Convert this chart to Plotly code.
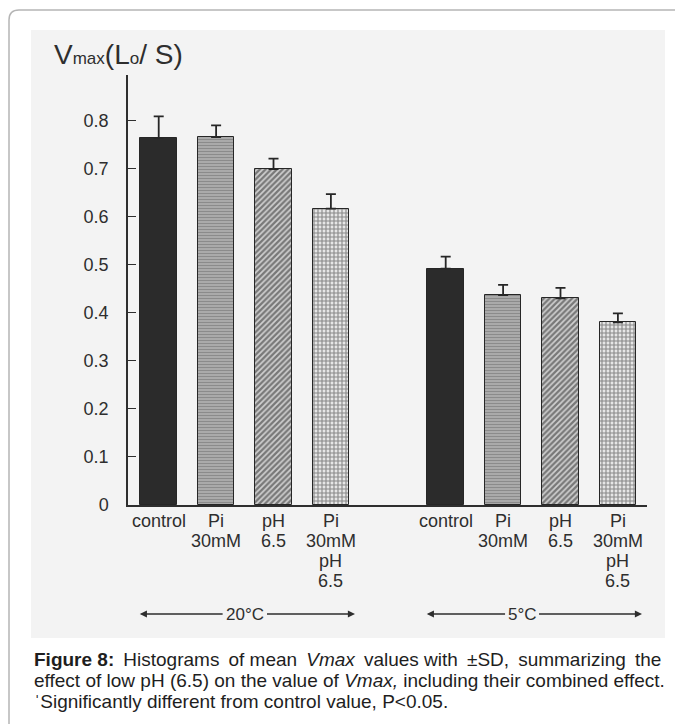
import plotly.graph_objects as go

# ---------------- data ----------------
treatments = ["control", "Pi\n30mM", "pH\n6.5", "Pi\n30mM\npH\n6.5"]
temperatures = ["20°C", "5°C"]
vmax_20C = [0.764, 0.766, 0.699, 0.617]
sd_20C = [0.045, 0.024, 0.022, 0.030]
vmax_5C = [0.492, 0.437, 0.430, 0.380]
sd_5C = [0.025, 0.021, 0.022, 0.019]
y_ticks = [0, 0.1, 0.2, 0.3, 0.4, 0.5, 0.6, 0.7, 0.8]
y_ticklabels = ["0", "0.1", "0.2", "0.3", "0.4", "0.5", "0.6", "0.7", "0.8"]

# ---------------- layout geometry ----------------
W, H = 675, 724
L, R, T, B = 128, 647, 75, 505


def px(x):
    return (x - L) / (R - L)


def py(y):
    return (B - y) / (B - T)


FONT = "Liberation Sans, Arial, sans-serif"
INK = "#2e2e2e"

# slot positions: group 1 at 0..3, group 2 at 5..8
pos_20 = [i for i in range(len(treatments))]
pos_5 = [i + len(treatments) + 1 for i in range(len(treatments))]

styles = [
    dict(color="#2b2b2b", pattern=dict(shape="")),
    dict(color="#a0a0a0", pattern=dict(shape="-", fgcolor="#6a6a6a", bgcolor="#adadad", size=3, solidity=0.4)),
    dict(color="#555555", pattern=dict(shape="/", fgcolor="#202020", bgcolor="#d0d0d0", size=4, solidity=0.58)),
    dict(color="#555555", pattern=dict(shape="+", fgcolor="#2a2a2a", bgcolor="#e6e6e6", size=4, solidity=0.48)),
]

fig = go.Figure()
for i, name in enumerate(treatments):
    st = styles[i]
    fig.add_trace(go.Bar(
        x=[pos_20[i], pos_5[i]],
        y=[vmax_20C[i], vmax_5C[i]],
        width=0.635,
        name=name.replace("\n", " "),
        marker=dict(color=st["color"], pattern=st["pattern"],
                    line=dict(color="#262626", width=1)),
        error_y=dict(type="data", symmetric=False,
                     array=[sd_20C[i], sd_5C[i]], arrayminus=[0, 0],
                     color="#262626", thickness=1.8, width=5),
        showlegend=False,
    ))

annotations = []
# category labels
for positions in (pos_20, pos_5):
    for i, lab in enumerate(treatments):
        for k, line in enumerate(lab.split("\n")):
            annotations.append(dict(
                x=positions[i], xref="x", y=py(521 + 20 * k), yref="paper",
                text=line, showarrow=False, xanchor="center", yanchor="middle",
                font=dict(family=FONT, size=18, color=INK)))

# temperature arrows
arrow_y = py(614)
for positions, temp in ((pos_20, temperatures[0]), (pos_5, temperatures[1])):
    left_tip = positions[0] - 0.33
    right_tip = positions[-1] + 0.42
    mid = (positions[0] + positions[-1]) / 2
    if temp == "5°C":
        mid -= 0.17
    half = 0.36 if len(temp) > 3 else 0.27
    annotations.append(dict(x=mid, xref="x", y=arrow_y, yref="paper", text=temp,
                            showarrow=False, xanchor="center", yanchor="middle",
                            font=dict(family=FONT, size=17, color=INK)))
    for tip, tail in ((left_tip, mid - half), (right_tip, mid + half)):
        annotations.append(dict(x=tip, xref="x", y=arrow_y, yref="paper",
                                ax=tail, axref="x", ay=0, ayref="pixel",
                                text="", showarrow=True, arrowhead=2, arrowsize=1.1,
                                arrowwidth=1.3, arrowcolor=INK))

# axis title
annotations.append(dict(
    x=px(52), xref="paper", y=py(55), yref="paper", xanchor="left", yanchor="middle",
    text="V<span style='font-size:17px'>max</span>(L<span style='font-size:17px'>o</span>/ S)",
    showarrow=False, font=dict(family=FONT, size=28, color=INK)))

# caption
nb = "\u00a0"
g = nb + "\u2009"
cap1 = ("<b>Figure" + nb + "8:</b>" + g + "Histograms" + g + "of" + nb + "mean" + g + "<i>Vmax</i>"
        + g + "values" + nb + "with" + g + "±SD," + g + "summarizing" + g + "the")
cap2 = "effect of low pH (6.5) on the value of <i>Vmax,</i> including their combined effect."
cap3 = "ˈSignificantly different from control value, P&lt;0.05."
for text, yy in ((cap1, 659), (cap2, 680), (cap3, 701)):
    annotations.append(dict(x=px(32), xref="paper", y=py(yy), yref="paper",
                            xanchor="left", yanchor="middle", text=text, showarrow=False,
                            font=dict(family=FONT, size=19, color="#1e1e1e")))

shapes = [
    # scanned figure background
    dict(type="rect", xref="paper", yref="paper", x0=px(31), x1=px(665), y0=py(638), y1=py(30),
         fillcolor="#f3f3f3", line=dict(width=0), layer="below"),
    # frame with rounded top-left corner
    dict(type="path", xref="paper", yref="paper",
         path=f"M {px(9)},{py(724)} L {px(9)},{py(20)} Q {px(9)},{py(10)} {px(19)},{py(10)} L {px(676)},{py(10)}",
         line=dict(color="#b5b5b5", width=1.5), layer="below"),
]

fig.update_layout(
    width=W, height=H, autosize=False,
    margin=dict(l=L, r=W - R, t=T, b=H - B, pad=0),
    paper_bgcolor="white", plot_bgcolor="rgba(0,0,0,0)",
    bargap=0, showlegend=False,
    xaxis=dict(range=[-0.535, 8.507], showline=True, linecolor=INK, linewidth=1.5,
               showticklabels=False, ticks="", showgrid=False, zeroline=False, fixedrange=True),
    yaxis=dict(range=[0, 0.895], showline=True, linecolor=INK, linewidth=1.5,
               tickvals=y_ticks, ticktext=y_ticklabels, ticks="inside", ticklen=8,
               tickcolor=INK, tickwidth=1.3, ticklabelstandoff=14,
               tickfont=dict(family=FONT, size=18, color=INK),
               showgrid=False, zeroline=False, fixedrange=True),
    annotations=annotations, shapes=shapes,
)

fig.write_html("out.html")
